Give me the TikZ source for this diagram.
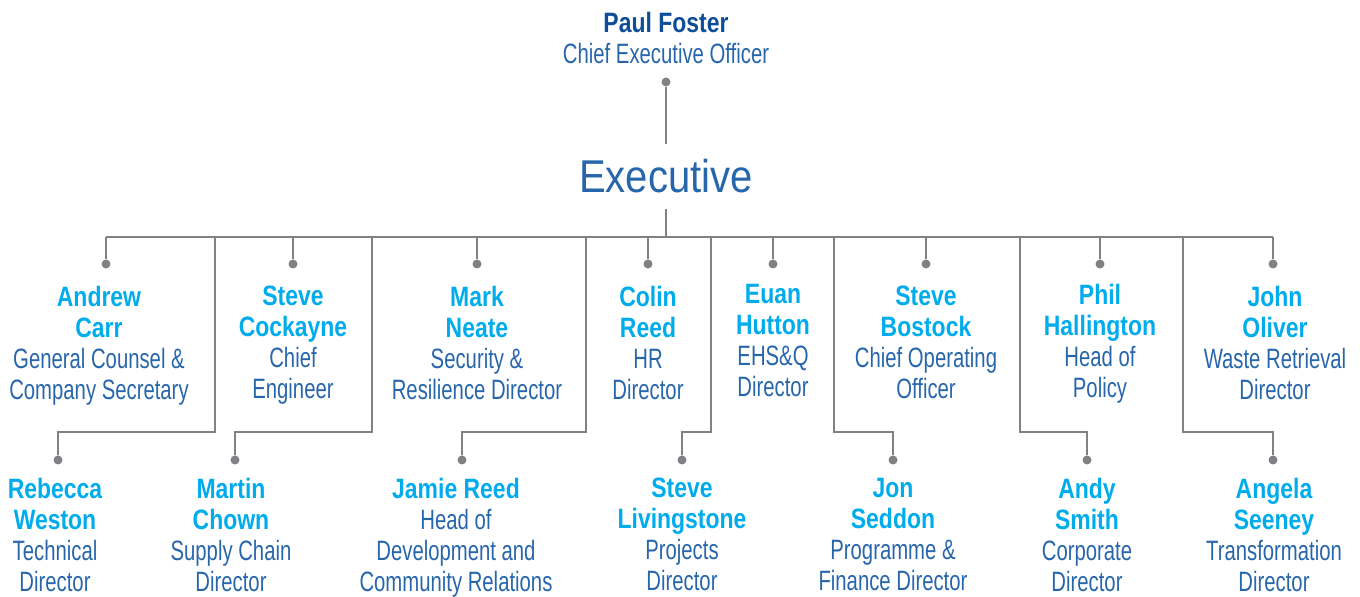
\documentclass[tikz,border=0pt]{standalone}
\usepackage{fontspec}
\setmainfont{Liberation Sans}
\newfontfamily\namefont{Liberation Sans}[FakeStretch=0.82]
\newfontfamily\rolefont{Liberation Sans}[FakeStretch=0.725]
\newfontfamily\execfont{Liberation Sans}[FakeStretch=0.87]
\definecolor{nameblue}{RGB}{0,172,236}
\definecolor{roleblue}{RGB}{40,102,172}
\definecolor{ceoblue}{RGB}{14,78,153}
\definecolor{linegray}{RGB}{128,129,133}
\newcommand{\pname}[1]{{\namefont\bfseries\color{nameblue}#1}}
\newcommand{\prole}[1]{{\rolefont\color{roleblue}#1}}

\begin{document}
\begin{tikzpicture}[x=0.5pt,y=-0.5pt,
    link/.style={draw=linegray, line width=1pt},
    dot/.style={circle, fill=linegray, inner sep=0pt, minimum size=4.5pt},
    person/.style={align=center, anchor=north, inner sep=0pt,
        font=\fontsize{14}{15.5}\selectfont}]
    \useasboundingbox (0,0) rectangle (1360,597);

    % top of the chart
    \node[person] (ceo) at (666,12) {{\namefont\bfseries\color{ceoblue}Paul Foster}\\\prole{Chief Executive Officer}};
    \node[dot] (ceo-dot) at (666,82) {};
    \node[inner sep=0pt, minimum height=32.5pt, text=roleblue,
        font=\execfont\fontsize{23}{26}\selectfont] (exec) at (666,176.5) {Executive};
    \coordinate (bus) at (666,237);
    \draw[link] (ceo-dot) -- (exec.north);
    \draw[link] (exec.south) -- (bus);

    % executive members
    \node[person] (carr) at (99,286) {\pname{Andrew}\\\pname{Carr}\\\prole{General Counsel \&}\\\prole{Company Secretary}};
    \node[person] (cockayne) at (293,286) {\pname{Steve}\\\pname{Cockayne}\\\prole{Chief}\\\prole{Engineer}};
    \node[person] (neate) at (477,286) {\pname{Mark}\\\pname{Neate}\\\prole{Security \&}\\\prole{Resilience Director}};
    \node[person] (creed) at (648,286) {\pname{Colin}\\\pname{Reed}\\\prole{HR}\\\prole{Director}};
    \node[person] (hutton) at (773,284) {\pname{Euan}\\\pname{Hutton}\\\prole{EHS\&Q}\\\prole{Director}};
    \node[person] (bostock) at (926,286) {\pname{Steve}\\\pname{Bostock}\\\prole{Chief Operating}\\\prole{Officer}};
    \node[person] (hallington) at (1100,284) {\pname{Phil}\\\pname{Hallington}\\\prole{Head of}\\\prole{Policy}};
    \node[person] (oliver) at (1275,286) {\pname{John}\\\pname{Oliver}\\\prole{Waste Retrieval}\\\prole{Director}};

    \node[person] (weston) at (55,478) {\pname{Rebecca}\\\pname{Weston}\\\prole{Technical}\\\prole{Director}};
    \node[person] (chown) at (231,478) {\pname{Martin}\\\pname{Chown}\\\prole{Supply Chain}\\\prole{Director}};
    \node[person] (jreed) at (456,478) {\pname{Jamie Reed}\\\prole{Head of}\\\prole{Development and}\\\prole{Community Relations}};
    \node[person] (livingstone) at (682,478) {\pname{Steve}\\\pname{Livingstone}\\\prole{Projects}\\\prole{Director}};
    \node[person] (seddon) at (893,478) {\pname{Jon}\\\pname{Seddon}\\\prole{Programme \&}\\\prole{Finance Director}};
    \node[person] (smith) at (1087,478) {\pname{Andy}\\\pname{Smith}\\\prole{Corporate}\\\prole{Director}};
    \node[person] (seeney) at (1274,478) {\pname{Angela}\\\pname{Seeney}\\\prole{Transformation}\\\prole{Director}};

    % dots and lines
    \foreach \n/\xx in {carr/106, cockayne/293, neate/477, creed/648, hutton/773, bostock/926, hallington/1100, oliver/1273}
        \node[dot] (\n-dot) at (\xx,264) {};
    \foreach \n/\xx in {weston/58, chown/235, jreed/462, livingstone/682, seddon/893, smith/1087, seeney/1273}
        \node[dot] (\n-dot) at (\xx,460) {};

    \draw[link] (carr-dot |- bus) -- (oliver-dot |- bus);
    \foreach \n in {carr, cockayne, neate, creed, hutton, bostock, hallington, oliver}
        \draw[link] (\n-dot |- bus) -- (\n-dot);
    \foreach \n/\xx in {weston/215, chown/372, jreed/586, livingstone/711, seddon/834, smith/1020, seeney/1183}
        \draw[link] (\xx,237) |- (\n-dot |- 0,432) -- (\n-dot);
\end{tikzpicture}
\end{document}
